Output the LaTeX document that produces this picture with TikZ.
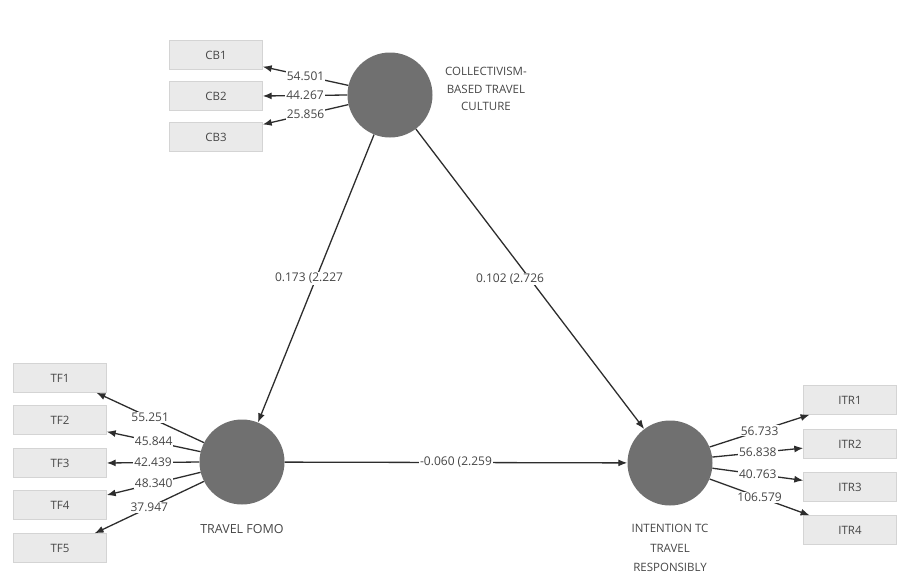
\documentclass[tikz,border=0pt]{standalone}
\usepackage{fontspec}
\setmainfont{Open Sans}
\usetikzlibrary{arrows.meta}
\definecolor{latentgray}{RGB}{112,112,112}
\definecolor{itemgray}{RGB}{234,234,234}
\definecolor{itemedge}{RGB}{212,212,212}
\definecolor{textgray}{RGB}{70,70,70}
\definecolor{pathgray}{RGB}{45,45,45}

\begin{document}
\begin{tikzpicture}[x=1pt,y=-1pt,
    latent/.style={circle,fill=latentgray,minimum size=85pt,inner sep=0pt},
    item/.style={rectangle,fill=itemgray,draw=itemedge,minimum width=93pt,minimum height=29pt,
      text=textgray,font=\fontsize{11.5}{13}\selectfont},
    link/.style={draw=pathgray,line width=1.3pt,-{Latex[length=9pt,width=7pt]}},
    val/.style={fill=white,inner sep=1pt,text=textgray,font=\fontsize{12}{13}\selectfont},
    lab/.style={align=center,text=textgray}]
        \useasboundingbox (0,0) rectangle (899,581);

        \node[latent] (cb) at (390,95) {};
        \node[latent] (tf) at (242,462) {};
        \node[latent] (itr) at (670,463) {};

        \node[lab,font=\fontsize{11.5}{17.5}\selectfont] (cblab) at (486,89) {COLLECTIVISM-\\BASED TRAVEL\\CULTURE};
        \node[lab,font=\fontsize{12.5}{14}\selectfont] (tflab) at (242,529) {TRAVEL FOMO};
        \node[lab,font=\fontsize{11.5}{19.5}\selectfont] (itrlab) at (670,548) {INTENTION TC\\TRAVEL\\RESPONSIBLY};

        \foreach \i/\y in {1/55, 2/96, 3/137}
          \node[item] (cb\i) at (216,\y) {CB\i};
        \foreach \i/\y in {1/378, 2/420, 3/463, 4/505, 5/548}
          \node[item] (tf\i) at (60,\y) {TF\i};
        \foreach \i/\y in {1/400, 2/444, 3/487, 4/530}
          \node[item] (itr\i) at (850,\y) {ITR\i};

        \foreach \a/\t/\v in {167/cb1.-14/54.501, 180/cb2.east/44.267, 193/cb3.15/25.856}
          \draw[link] (cb.\a) -- node[val] {\v} (\t);
        \foreach \a/\t/\v in {153/tf1.-22/55.251, 166/tf2.-14/45.844, 180/tf3.east/42.439, 194/tf4.12/48.340, 207/tf5.23/37.947}
          \draw[link] (tf.\a) -- node[val] {\v} (\t);
        \foreach \a/\t/\v in {22/itr1.200/56.733, 8/itr2.185/56.838, -7/itr3.172/40.763, -22/itr4.160/106.579}
          \draw[link] (itr.\a) -- node[val] {\v} (\t);

        \draw[link] (cb) -- node[val,xshift=-7pt] {0.173 (2.227} (tf);
        \draw[link] (cb) -- node[val,xshift=-20pt] {0.102 (2.726} (itr);
        \draw[link] (tf) -- node[val] {-0.060 (2.259} (itr);
      \end{tikzpicture}
\end{document}
